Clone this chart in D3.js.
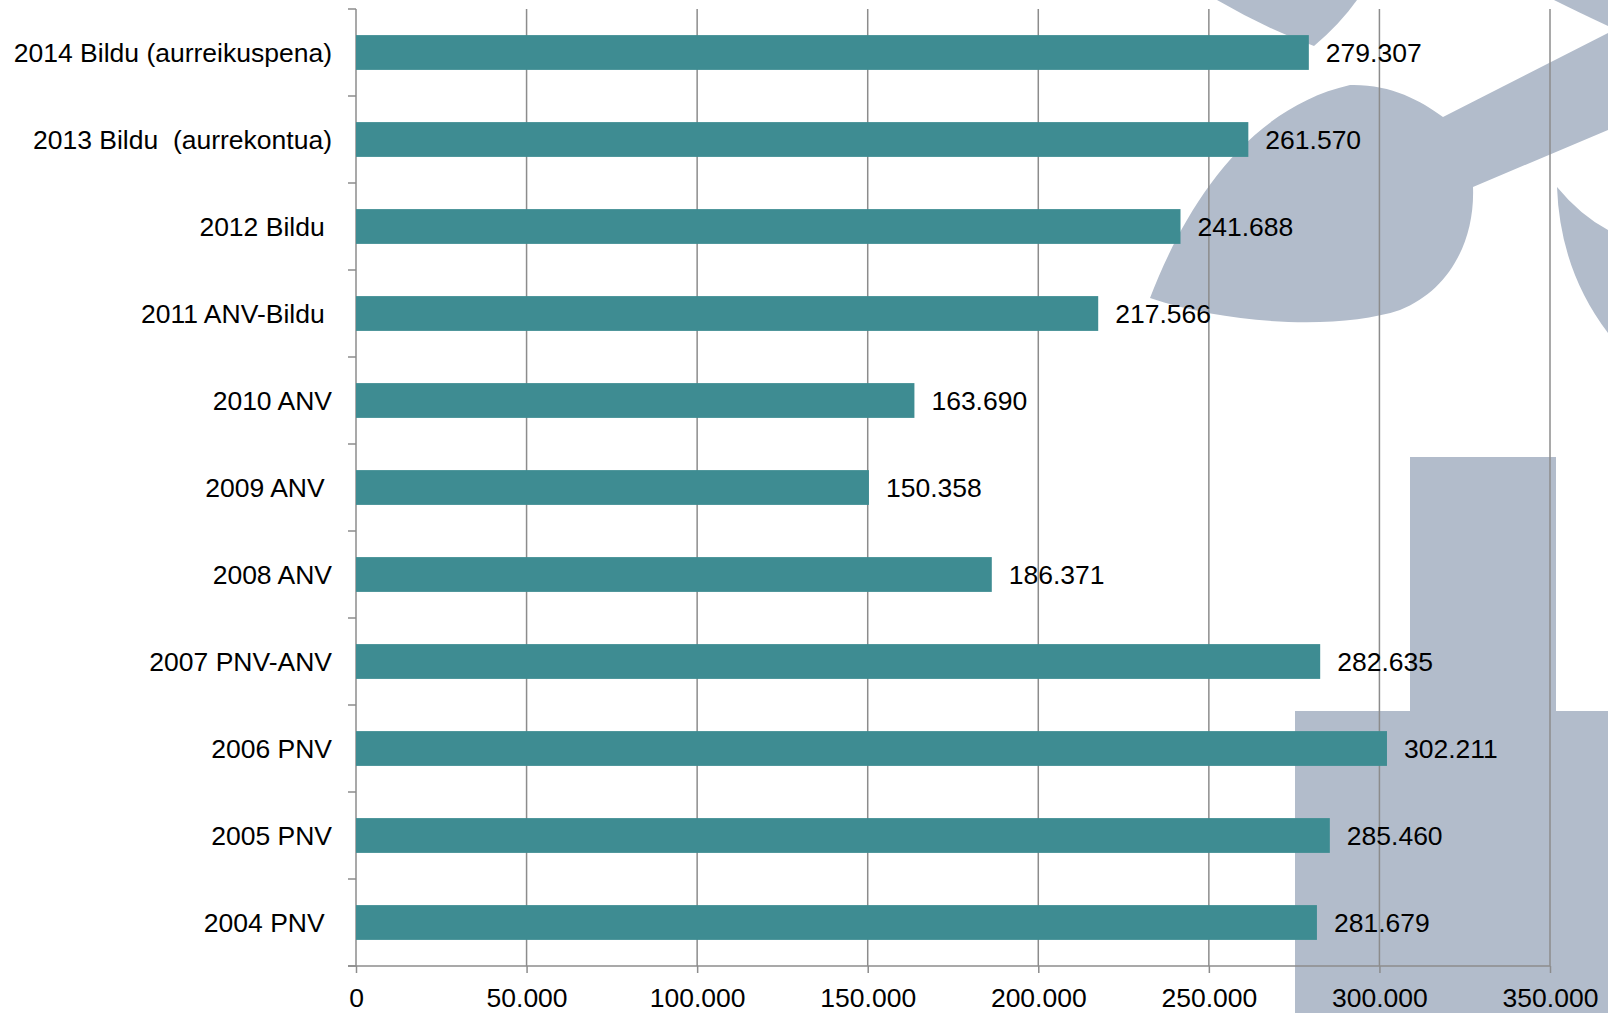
<!DOCTYPE html>
<html>
<head>
<meta charset="utf-8">
<script src="https://cdn.jsdelivr.net/npm/d3@7"></script>
<style>
  body { margin: 0; background: #fff; }
  svg text { font-family: "Liberation Sans", Arial, sans-serif; white-space: pre; }
</style>
</head>
<body>
<div id="chart"></div>
<script>
// categories, top to bottom
var categories = [
  "2014 Bildu (aurreikuspena)",
  "2013 Bildu  (aurrekontua)",
  "2012 Bildu ",
  "2011 ANV-Bildu ",
  "2010 ANV",
  "2009 ANV ",
  "2008 ANV",
  "2007 PNV-ANV",
  "2006 PNV",
  "2005 PNV",
  "2004 PNV "
];
var values = [279307, 261570, 241688, 217566, 163690, 150358, 186371, 282635, 302211, 285460, 281679];
var xTicks = [0, 50000, 100000, 150000, 200000, 250000, 300000, 350000];

var width = 1608, height = 1013;
var plotL = 356, plotR = 1550, plotT = 9, plotB = 966;
var fontSize = "26.5px";

var svg = d3.select("#chart")
  .append("svg")
  .attr("width", width)
  .attr("height", height);

// watermark logo in the background
var wm = svg.append("g").attr("fill", "#b2bccb");
wm.append("path").attr("d", "M1217,0 Q1265,28 1314,46 Q1340,24 1357,0 Z");
wm.append("path").attr("d", "M1554,0 L1608,0 L1608,26 Q1578,12 1554,0 Z");
wm.append("path").attr("d",
  "M1150,298 C1180,220 1240,110 1350,85 C1390,84 1420,100 1443,117 " +
  "L1608,33 L1608,130 L1473,187 C1475,240 1450,290 1400,310 " +
  "C1340,330 1230,325 1150,298 Z");
wm.append("path").attr("d", "M1557,187 Q1580,215 1608,230 L1608,333 Q1560,270 1557,187 Z");
wm.append("rect").attr("x", 1410).attr("y", 457).attr("width", 146).attr("height", height - 457);
wm.append("rect").attr("x", 1295).attr("y", 711).attr("width", width - 1295).attr("height", height - 711);

var x = d3.scaleLinear().domain([0, 350000]).range([plotL, plotR]);
var y = d3.scaleBand().domain(categories).range([plotT, plotB])
  .paddingInner(0.6).paddingOuter(0.3);

var locale = d3.formatLocale({ decimal: ",", thousands: ".", grouping: [3], currency: ["", ""] });
var fmt = locale.format(",d");

// vertical gridlines
svg.append("g")
  .selectAll("line")
  .data(xTicks.slice(1))
  .enter().append("line")
  .attr("x1", function(d) { return x(d); })
  .attr("x2", function(d) { return x(d); })
  .attr("y1", plotT)
  .attr("y2", plotB)
  .style("stroke", "#8c8c8c")
  .style("stroke-width", 1.5);

// x axis
var xAxis = svg.append("g")
  .attr("transform", "translate(0," + plotB + ")")
  .call(d3.axisBottom(x).tickValues(xTicks).tickFormat(fmt).tickSize(7).tickSizeOuter(0));
xAxis.select(".domain").remove();
xAxis.selectAll("line").style("stroke", "#8c8c8c").style("stroke-width", 1.5);
xAxis.selectAll("text")
  .attr("y", 22)
  .attr("dy", "0.71em")
  .style("font-size", fontSize)
  .style("fill", "#000");
svg.append("line")
  .attr("x1", plotL - 8).attr("x2", plotR)
  .attr("y1", plotB).attr("y2", plotB)
  .style("stroke", "#8c8c8c").style("stroke-width", 1.5);

// y axis line + category separators
svg.append("line")
  .attr("x1", plotL).attr("x2", plotL)
  .attr("y1", plotT).attr("y2", plotB)
  .style("stroke", "#8c8c8c").style("stroke-width", 1.5);
var gap = (y.step() - y.bandwidth()) / 2;
var bounds = categories.map(function(d) { return y(d) - gap; }).concat([plotB]);
svg.append("g")
  .selectAll("line")
  .data(bounds)
  .enter().append("line")
  .attr("x1", plotL - 8).attr("x2", plotL)
  .attr("y1", function(d) { return d; })
  .attr("y2", function(d) { return d; })
  .style("stroke", "#8c8c8c").style("stroke-width", 1.5);

// bars
svg.append("g")
  .selectAll("rect")
  .data(values)
  .enter().append("rect")
  .attr("x", x(0))
  .attr("y", function(d, i) { return y(categories[i]); })
  .attr("width", function(d) { return x(d) - x(0); })
  .attr("height", y.bandwidth())
  .style("fill", "#3e8c92");

// value labels
svg.append("g")
  .selectAll("text")
  .data(values)
  .enter().append("text")
  .attr("x", function(d) { return x(d) + 17; })
  .attr("y", function(d, i) { return y(categories[i]) + y.bandwidth() / 2; })
  .attr("dy", "0.36em")
  .style("font-size", fontSize)
  .style("fill", "#000")
  .text(function(d) { return fmt(d); });

// category labels
svg.append("g")
  .selectAll("text")
  .data(categories)
  .enter().append("text")
  .attr("x", plotL - 24)
  .attr("y", function(d) { return y(d) + y.bandwidth() / 2; })
  .attr("dy", "0.36em")
  .attr("text-anchor", "end")
  .style("font-size", fontSize)
  .style("fill", "#000")
  .text(function(d) { return d; });
</script>
</body>
</html>
